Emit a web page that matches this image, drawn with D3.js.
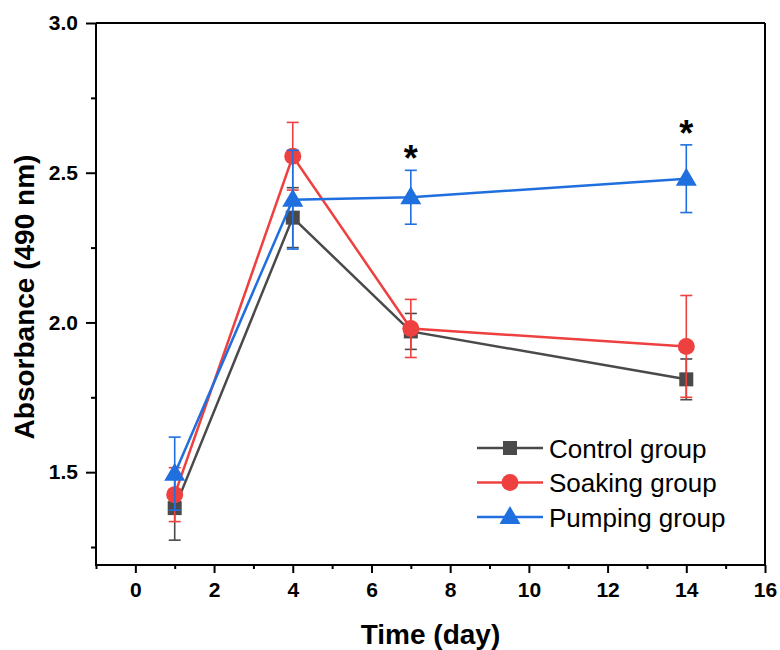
<!DOCTYPE html>
<html><head><meta charset="utf-8">
<script src="https://cdn.jsdelivr.net/npm/d3@7"></script>
<style>body{margin:0;background:#fff}svg{display:block}text{font-family:Arial,"Liberation Sans",sans-serif}</style>
</head><body>
<script>
const days = [1, 4, 7, 14];
const controlMean = [1.38, 2.35, 1.97, 1.81];
const controlErr  = [0.107, 0.10, 0.06, 0.068];
const soakingMean = [1.425, 2.555, 1.98, 1.92];
const soakingErr  = [0.09, 0.113, 0.097, 0.17];
const pumpingMean = [1.495, 2.41, 2.418, 2.48];
const pumpingErr  = [0.122, 0.165, 0.09, 0.113];
const seriesNames = ["Control group", "Soaking group", "Pumping group"];
const seriesColors = ["#4a4a4a", "#ef4040", "#1f6fdf"];
const seriesShapes = ["square", "circle", "triangle"];
const starDays = [7, 14];
const xMajorTicks = [0, 2, 4, 6, 8, 10, 12, 14, 16];
const xMinorTicks = [-1, 1, 3, 5, 7, 9, 11, 13, 15];
const yMajorTicks = [1.5, 2.0, 2.5, 3.0];
const yMinorTicks = [1.25, 1.75, 2.25, 2.75];
const xTitle = "Time (day)";
const yTitle = "Absorbance (490 nm)";

const W = 780, H = 650;
const L = 96, R = 765, T = 23, B = 565;
const svg = d3.select("body").append("svg").attr("width", W).attr("height", H);
const x = d3.scaleLinear().domain([-1, 16]).range([L, R]);
const y = d3.scaleLinear().domain([1.19, 3.0]).range([B, T]);

const errs = [controlErr, soakingErr, pumpingErr];
const series = [controlMean, soakingMean, pumpingMean].map((m, i) => ({
  name: seriesNames[i], color: seriesColors[i], shape: seriesShapes[i],
  pts: days.map((d, j) => ({d, v: m[j], e: errs[i][j]}))
}));

function marker(g, shape, color) {
  if (shape === "square") g.append("rect").attr("x", -7).attr("y", -7).attr("width", 14).attr("height", 14).attr("fill", color);
  else if (shape === "circle") g.append("circle").attr("r", 8.5).attr("fill", color);
  else g.append("path").attr("d", "M0,-11 L10.5,7 L-10.5,7 Z").attr("fill", color);
}

// frame lines (top & right)
svg.append("line").attr("x1", L).attr("x2", R).attr("y1", T).attr("y2", T).attr("stroke", "#000").attr("stroke-width", 2);
svg.append("line").attr("x1", R).attr("x2", R).attr("y1", T).attr("y2", B).attr("stroke", "#000").attr("stroke-width", 2);

// axes
const xAxis = svg.append("g").attr("transform", `translate(0,${B})`)
  .call(d3.axisBottom(x).tickValues(xMajorTicks).tickSize(8).tickPadding(9).tickFormat(d3.format("d")));
svg.append("g").attr("transform", `translate(0,${B})`)
  .call(d3.axisBottom(x).tickValues(xMinorTicks).tickSize(4).tickFormat(""))
  .call(g => g.select(".domain").remove());
const yAxis = svg.append("g").attr("transform", `translate(${L},0)`)
  .call(d3.axisLeft(y).tickValues(yMajorTicks).tickSize(10).tickPadding(8).tickFormat(d3.format(".1f")));
svg.append("g").attr("transform", `translate(${L},0)`)
  .call(d3.axisLeft(y).tickValues(yMinorTicks).tickSize(5).tickFormat(""))
  .call(g => g.select(".domain").remove());
xAxis.select(".domain").remove();
yAxis.select(".domain").remove();
svg.selectAll(".tick line").attr("stroke-width", 2);
svg.selectAll(".tick text").attr("font-size", 21).attr("font-weight", "bold").attr("fill", "#000")
  .style("font-family", "Arial, 'Liberation Sans', sans-serif");
svg.append("line").attr("x1", L).attr("x2", R).attr("y1", B).attr("y2", B).attr("stroke", "#000").attr("stroke-width", 2);
svg.append("line").attr("x1", L).attr("x2", L).attr("y1", T).attr("y2", B + 1).attr("stroke", "#000").attr("stroke-width", 2);

// titles
svg.append("text").attr("x", (L + R) / 2).attr("y", 644).attr("text-anchor", "middle")
  .attr("font-size", 28).attr("font-weight", "bold").text(xTitle);
svg.append("text").attr("transform", `translate(34,${(T + B) / 2 + 3}) rotate(-90)`).attr("text-anchor", "middle")
  .attr("font-size", 28).attr("font-weight", "bold").text(yTitle);

// series
const line = d3.line().x(p => x(p.d)).y(p => y(p.v));
series.forEach(s => {
  const g = svg.append("g");
  g.append("path").datum(s.pts).attr("d", line).attr("fill", "none").attr("stroke", s.color).attr("stroke-width", 2.5);
  s.pts.forEach(p => {
    const cx = x(p.d), y1 = y(p.v + p.e), y2 = y(p.v - p.e);
    g.append("line").attr("x1", cx).attr("x2", cx).attr("y1", y1).attr("y2", y2).attr("stroke", s.color).attr("stroke-width", 1.6);
    [y1, y2].forEach(yy => g.append("line").attr("x1", cx - 6).attr("x2", cx + 6).attr("y1", yy).attr("y2", yy).attr("stroke", s.color).attr("stroke-width", 1.6));
  });
  s.pts.forEach(p => marker(g.append("g").attr("transform", `translate(${x(p.d)},${y(p.v)})`), s.shape, s.color));
});

// significance stars
const pump = series[2];
starDays.forEach(d => {
  const p = pump.pts.find(q => q.d === d);
  svg.append("text").attr("x", x(d)).attr("y", y(p.v + p.e) + 1).attr("text-anchor", "middle")
    .attr("font-size", 36).attr("font-weight", "bold").text("*");
});

// legend
const lg = svg.append("g");
series.forEach((s, i) => {
  const yy = 448 + i * 34.5;
  lg.append("line").attr("x1", 477).attr("x2", 543).attr("y1", yy).attr("y2", yy).attr("stroke", s.color).attr("stroke-width", 2.5);
  marker(lg.append("g").attr("transform", `translate(510,${yy})`), s.shape, s.color);
  lg.append("text").attr("x", 549).attr("y", yy + 9.5).attr("font-size", 26).attr("fill", "#000").text(s.name);
});
</script>
</body></html>
